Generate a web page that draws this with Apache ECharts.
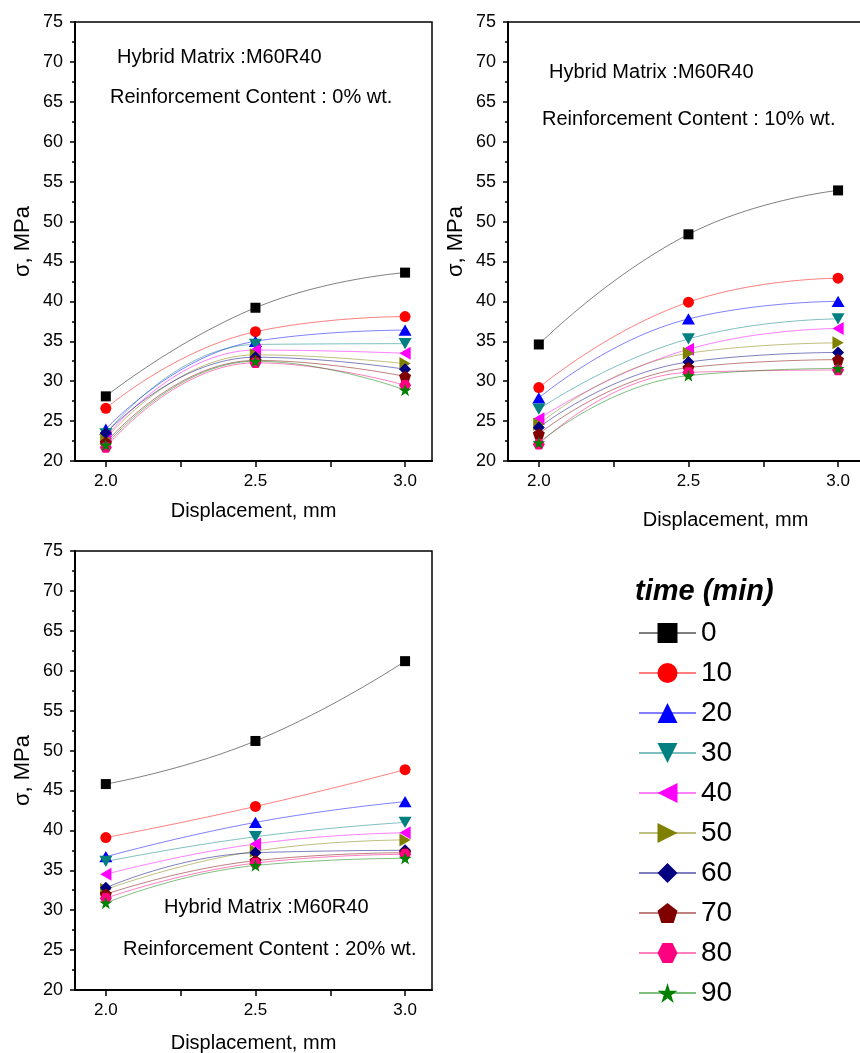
<!DOCTYPE html>
<html>
<head>
<meta charset="utf-8">
<script src="https://cdn.jsdelivr.net/npm/echarts@6/dist/echarts.min.js"></script>
<style>
  html, body { margin: 0; padding: 0; background: #fff; }
  #chart { width: 860px; height: 1053px; }
</style>
</head>
<body>
<div id="chart"></div>
<script>
// x positions (displacement, mm)
const displacement = [2.0, 2.5, 3.0]
const xTickValues = [2.0, 2.25, 2.5, 2.75, 3.0]
const xLabelValues = [2.0, 2.5, 3.0]

// time (min) for each curve
const timeLabels = ['0', '10', '20', '30', '40', '50', '60', '70', '80', '90']

// sigma (MPa), one row per time, values at 2.0 / 2.5 / 3.0 mm
const stressRe0 = [
  [28.1, 39.2, 43.6],
  [26.6, 36.2, 38.1],
  [24.0, 35.0, 36.4],
  [23.4, 34.6, 34.7],
  [23.0, 33.9, 33.5],
  [22.8, 33.3, 32.2],
  [23.5, 33.0, 31.5],
  [22.3, 32.6, 30.6],
  [21.7, 32.3, 29.5],
  [22.0, 32.5, 28.9]
]
const stressRe10 = [
  [34.6, 48.4, 53.9],
  [29.2, 39.9, 42.9],
  [27.9, 37.8, 40.0],
  [26.5, 35.3, 37.8],
  [25.3, 34.0, 36.6],
  [24.6, 33.5, 34.8],
  [24.2, 32.4, 33.6],
  [23.4, 31.7, 32.7],
  [22.1, 31.1, 31.4],
  [22.3, 30.7, 31.6]
]
const stressRe20 = [
  [45.8, 51.2, 61.2],
  [39.1, 43.0, 47.6],
  [36.7, 41.0, 43.6],
  [36.1, 39.2, 41.0],
  [34.5, 38.3, 39.7],
  [32.6, 37.4, 38.8],
  [32.8, 37.2, 37.5],
  [32.0, 36.2, 37.2],
  [31.5, 35.9, 37.0],
  [30.9, 35.6, 36.5]
]

const FONT = "'Liberation Sans', Arial, sans-serif"

const MARKERS = [
  { color: '#000000', symbol: 'rect', size: 10 },
  { color: '#ff0000', symbol: 'circle', size: 11 },
  { color: '#0000ff', symbol: 'path://M5,0L10,8.66L0,8.66Z', size: 13 },
  { color: '#008080', symbol: 'path://M0,0L10,0L5,8.66Z', size: 13 },
  { color: '#ff00ff', symbol: 'path://M0,5L8.66,0L8.66,10Z', size: 13 },
  { color: '#808000', symbol: 'path://M0,0L8.66,5L0,10Z', size: 13 },
  { color: '#000080', symbol: 'diamond', size: 12 },
  { color: '#800000', symbol: 'path://M10,0L19.51,6.91L15.88,18.09L4.12,18.09L0.49,6.91Z', size: 12 },
  { color: '#ff0080', symbol: 'path://M5,0L15,0L20,8.66L15,17.32L5,17.32L0,8.66Z', size: 12 },
  { color: '#008000', symbol: 'path://M10,0L12.25,6.91L19.51,6.91L13.63,11.18L15.88,18.09L10,13.82L4.12,18.09L6.37,11.18L0.49,6.91L7.76,6.91Z', size: 13 }
]

function hexToRgba(hex, alpha) {
  let n = parseInt(hex.slice(1), 16)
  return `rgba(${(n >> 16) & 255}, ${(n >> 8) & 255}, ${n & 255}, ${alpha})`
}

const PANELS = [
  { rows: stressRe0, grid: { left: 75, top: 22, width: 357, height: 439 }, xNameGap: 40, xNamePad: [0, 0, 0, 0] },
  { rows: stressRe10, grid: { left: 508, top: 22, width: 357, height: 439 }, xNameGap: 49, xNamePad: [0, 0, 0, 78] },
  { rows: stressRe20, grid: { left: 75, top: 551, width: 357, height: 439 }, xNameGap: 43, xNamePad: [0, 0, 0, 0] }
]

const NOTES = [
  { text: 'Hybrid Matrix :M60R40', x: 117, y: 57 },
  { text: 'Reinforcement Content : 0% wt.', x: 110, y: 97 },
  { text: 'Hybrid Matrix :M60R40', x: 549, y: 72 },
  { text: 'Reinforcement Content : 10% wt.', x: 542, y: 119 },
  { text: 'Hybrid Matrix :M60R40', x: 164, y: 907 },
  { text: 'Reinforcement Content : 20% wt.', x: 123, y: 949 }
]

function buildXAxis(panel, index) {
  return {
    type: 'value',
    gridIndex: index,
    min: 1.897,
    max: 3.09,
    name: 'Displacement, mm',
    nameLocation: 'middle',
    nameGap: panel.xNameGap,
    nameTextStyle: { color: '#000', fontSize: 20, fontFamily: FONT, padding: panel.xNamePad },
    axisLine: { show: true, onZero: false, lineStyle: { color: '#000', width: 2 } },
    axisTick: { show: true, length: 6, customValues: xTickValues, lineStyle: { color: '#000', width: 1.5 } },
    axisLabel: {
      show: true,
      customValues: xLabelValues,
      color: '#000',
      fontSize: 17,
      fontFamily: FONT,
      margin: 12,
      formatter: value => Number(value).toFixed(1)
    },
    splitLine: { show: false }
  }
}

function buildYAxis(index) {
  return {
    type: 'value',
    gridIndex: index,
    min: 20,
    max: 75,
    interval: 5,
    name: 'σ, MPa',
    nameLocation: 'middle',
    nameGap: 41,
    nameTextStyle: { color: '#000', fontSize: 22, fontFamily: FONT },
    axisLine: { show: true, lineStyle: { color: '#000', width: 2 } },
    axisTick: { show: true, length: 5, lineStyle: { color: '#000', width: 1.5 } },
    minorTick: { show: true, splitNumber: 2, length: 3, lineStyle: { color: '#000', width: 1.5 } },
    axisLabel: { color: '#000', fontSize: 18, fontFamily: FONT, margin: 12 },
    splitLine: { show: false },
    minorSplitLine: { show: false }
  }
}

function buildSeries() {
  let list = []
  PANELS.forEach((panel, p) => {
    panel.rows.forEach((row, i) => {
      let marker = MARKERS[i]
      list.push({
        name: timeLabels[i],
        type: 'line',
        xAxisIndex: p,
        yAxisIndex: p,
        smooth: 0.5,
        symbol: marker.symbol,
        symbolSize: marker.size,
        symbolKeepAspect: true,
        showSymbol: true,
        animation: false,
        itemStyle: { color: marker.color, opacity: 1 },
        lineStyle: { color: hexToRgba(marker.color, 0.5), width: 1 },
        emphasis: { disabled: true },
        data: displacement.map((x, k) => [x, row[k]])
      })
    })
  })
  return list
}

const chart = echarts.init(document.getElementById('chart'), null, { renderer: 'canvas' })

chart.setOption({
  backgroundColor: '#ffffff',
  animation: false,
  textStyle: { fontFamily: FONT },
  grid: PANELS.map(panel => Object.assign({
    show: true,
    borderColor: '#000',
    borderWidth: 1.5,
    backgroundColor: 'transparent',
    containLabel: false,
    outerBoundsMode: 'none'
  }, panel.grid)),
  xAxis: PANELS.map((panel, i) => buildXAxis(panel, i)),
  yAxis: PANELS.map((panel, i) => buildYAxis(i)),
  legend: {
    data: timeLabels,
    orient: 'vertical',
    left: 633,
    top: 614,
    itemWidth: 57,
    itemHeight: 25,
    itemGap: 12,
    selectedMode: false,
    textStyle: { color: '#000', fontSize: 28, fontFamily: FONT }
  },
  graphic: NOTES.map(note => ({
    type: 'text',
    x: note.x,
    y: note.y,
    silent: true,
    style: {
      text: note.text,
      fill: '#000',
      font: `20px ${FONT}`,
      verticalAlign: 'middle'
    }
  })).concat([{
    type: 'text',
    x: 635,
    y: 592,
    silent: true,
    style: {
      text: 'time (min)',
      fill: '#000',
      font: `italic bold 29px ${FONT}`,
      verticalAlign: 'middle'
    }
  }]),
  series: buildSeries()
})
</script>
</body>
</html>
